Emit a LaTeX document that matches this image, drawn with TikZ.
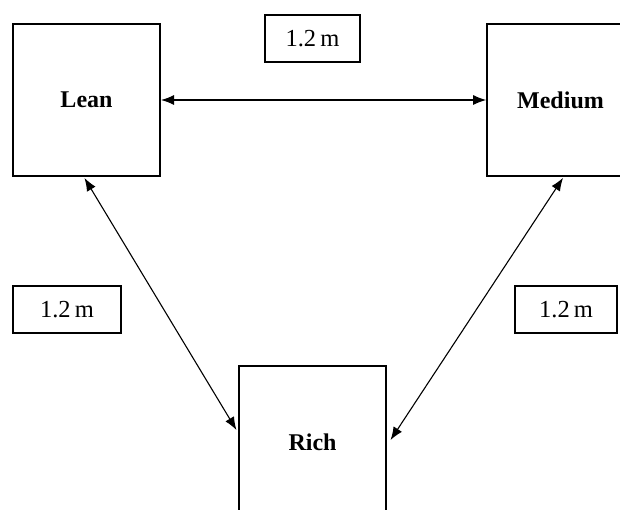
\documentclass[tikz,border=0pt]{standalone}
\usepackage{fontspec}
\setmainfont{Liberation Serif}
\usetikzlibrary{arrows.meta}
\tikzset{
  catbox/.style={draw=black, minimum width=147pt, minimum height=152pt, inner sep=0pt,
    font=\fontsize{24}{26}\selectfont\bfseries},
  distbox/.style={draw=black, line width=1.3pt, inner sep=0pt,
    font=\fontsize{24.5}{26}\selectfont},
  link/.style={line width=1.1pt, {Latex[length=13pt,width=10pt]}-{Latex[length=13pt,width=10pt]}}
}
\begin{document}
\begin{tikzpicture}[x=1pt,y=-1pt]
\useasboundingbox (0,0) rectangle (620,510);
\clip (0,0) rectangle (620,510);
\node[catbox, line width=2pt] (lean) at (86.5,100) {Lean};
\node[catbox, line width=1.7pt] (medium) at (560.5,100) {Medium};
\node[catbox, line width=1.1pt] (rich) at (312.5,442) {Rich};
\node[distbox, minimum width=95pt, minimum height=47pt] (dtop) at (312.5,38.5) {1.2\,m};
\node[distbox, minimum width=108pt, minimum height=47pt] (dleft) at (67,309.5) {1.2\,m};
\node[distbox, minimum width=102pt, minimum height=47pt] (dright) at (566,309.5) {1.2\,m};
\draw[link] (lean.east) -- (medium.west);
\draw[link] ([xshift=-2pt,yshift=-1pt]lean.south) -- ([xshift=-2pt,yshift=12pt]rich.west);
\draw[link] ([xshift=2.5pt,yshift=-1pt]medium.south) -- ([xshift=4pt,yshift=2pt]rich.east);
\end{tikzpicture}
\end{document}
